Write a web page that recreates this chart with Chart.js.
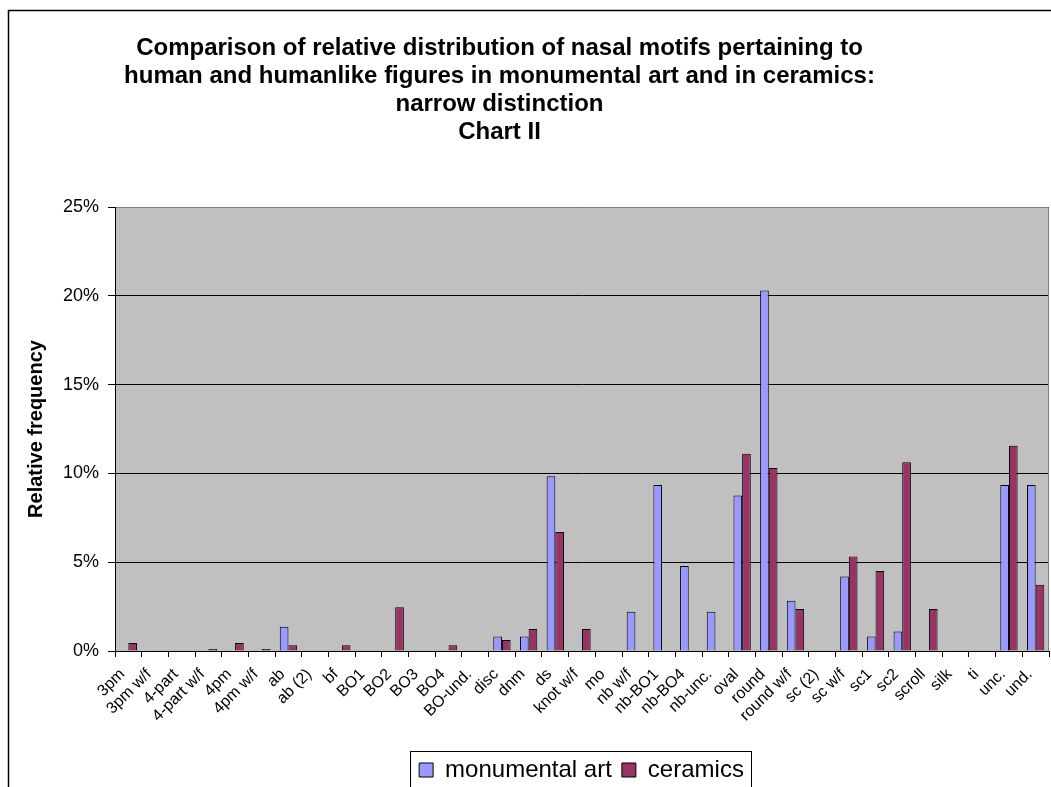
<!DOCTYPE html>
<html>
<head>
<meta charset="utf-8">
<script src="https://cdn.jsdelivr.net/npm/chart.js@4.4.1/dist/chart.umd.min.js"></script>
<style>
html,body{margin:0;padding:0;background:#fff;}
#wrap{width:1051px;height:787px;position:relative;overflow:hidden;}
</style>
</head>
<body>
<div id="wrap"><canvas id="c" width="1051" height="787"></canvas></div>
<script>
const categories = ['3pm','3pm w/f','4-part','4-part w/f','4pm','4pm w/f','ab','ab (2)','bf','BO1','BO2','BO3','BO4','BO-und.','disc','dnm','ds','knot w/f','mo','nb w/f','nb-BO1','nb-BO4','nb-unc.','oval','round','round w/f','sc (2)','sc w/f','sc1','sc2','scroll','silk','ti','unc.','und.'];
const monumentalArt = [0,0,0,0,0,0,1.37,0,0,0,0,0,0,0,0.82,0.82,9.84,0,0,2.21,9.34,4.78,2.21,8.75,20.3,2.83,0,4.2,0.82,1.1,0,0,0,9.34,9.34];
const ceramics = [0.45,0,0,0.11,0.45,0.11,0.32,0,0.32,0,2.47,0,0.32,0,0.62,1.24,6.7,1.24,0,0,0,0,0,11.1,10.3,2.36,0,5.32,4.51,10.63,2.36,0,0,11.56,3.73];
const yTickLabels = ['0%','5%','10%','15%','20%','25%'];
const titleLines = ['Comparison of relative distribution of nasal motifs pertaining to','human and humanlike figures in monumental art and in ceramics:','narrow distinction','Chart II'];

const FONT = "'Liberation Sans', Arial, sans-serif";
const TITLE_SHIFT = -25;
const LEGEND_SHIFT = 57;

const frame = {
  id: 'frame',
  afterLayout(chart) {
    chart.$shifted = false;
  },
  beforeDraw(chart) {
    if (!chart.$shifted) {
      chart.$shifted = true;
      const t = chart.titleBlock;
      if (t) { t.left += TITLE_SHIFT; t.right += TITLE_SHIFT; }
      const lg = chart.legend;
      if (lg) {
        lg.left += LEGEND_SHIFT; lg.right += LEGEND_SHIFT;
        (lg.legendHitBoxes || []).forEach(h => { h.left += LEGEND_SHIFT; });
      }
    }
    const ctx = chart.ctx, a = chart.chartArea;
    ctx.save();
    ctx.fillStyle = '#fff';
    ctx.fillRect(0, 0, chart.width, chart.height);
    ctx.strokeStyle = '#000';
    ctx.lineWidth = 1.5;
    ctx.strokeRect(8.5, 10.5, 1200, 1200);
    ctx.fillStyle = '#C0C0C0';
    ctx.fillRect(a.left, a.top, a.right - a.left, a.bottom - a.top);
    ctx.restore();
  },
  beforeDatasetsDraw(chart) {
    const ctx = chart.ctx, a = chart.chartArea;
    ctx.save();
    ctx.strokeStyle = '#808080';
    ctx.lineWidth = 1;
    ctx.beginPath();
    ctx.moveTo(a.left, a.top + 0.5);
    ctx.lineTo(a.right - 0.5, a.top + 0.5);
    ctx.lineTo(a.right - 0.5, a.bottom);
    ctx.stroke();
    ctx.strokeStyle = '#000';
    ctx.beginPath();
    ctx.moveTo(a.left + 0.5, a.top);
    ctx.lineTo(a.left + 0.5, a.bottom);
    ctx.stroke();
    ctx.restore();
  },
  afterDraw(chart) {
    const lg = chart.legend;
    if (!lg || !lg.legendHitBoxes || !lg.legendHitBoxes.length) return;
    const hb = lg.legendHitBoxes;
    let minX = Infinity, maxX = -Infinity;
    hb.forEach(h => { minX = Math.min(minX, h.left); maxX = Math.max(maxX, h.left + h.width); });
    const ctx = chart.ctx;
    ctx.save();
    ctx.strokeStyle = '#000';
    ctx.lineWidth = 1;
    ctx.strokeRect(Math.round(minX - 9) + 0.5, 751.5, Math.round(maxX - minX + 16), 60);
    ctx.restore();
  }
};

new Chart(document.getElementById('c'), {
  type: 'bar',
  data: {
    labels: categories,
    datasets: [
      { label: 'monumental art', data: monumentalArt, backgroundColor: '#9999FF', borderColor: '#000', borderWidth: 1, barPercentage: 1, categoryPercentage: 0.65 },
      { label: 'ceramics', data: ceramics, backgroundColor: '#993366', borderColor: '#000', borderWidth: 1, barPercentage: 1, categoryPercentage: 0.65 }
    ]
  },
  options: {
    responsive: false,
    animation: false,
    devicePixelRatio: 1,
    layout: { padding: { top: 0, right: 2, bottom: -5, left: 0 } },
    plugins: {
      title: {
        display: true,
        text: titleLines,
        color: '#000',
        font: { family: FONT, size: 24, weight: 'bold', lineHeight: 28 / 24 },
        padding: { top: 34, bottom: 61 }
      },
      legend: {
        display: true,
        position: 'bottom',
        labels: {
          color: '#000',
          font: { family: FONT, size: 24 },
          boxWidth: 14,
          boxHeight: 14,
          padding: 10
        }
      },
      tooltip: { enabled: false }
    },
    scales: {
      x: {
        offset: true,
        grid: { offset: true, drawOnChartArea: false, drawTicks: true, tickLength: 6, color: '#000' },
        border: { color: '#000', width: 1 },
        ticks: { color: '#000', font: { family: FONT, size: 16 }, maxRotation: 45, minRotation: 45, autoSkip: false, padding: 8, labelOffset: -6 },
        afterFit(s) { s.height = 97; s.paddingRight = 0; s.paddingLeft = 0; }
      },
      y: {
        min: 0,
        max: 25,
        ticks: {
          stepSize: 5,
          color: '#000',
          font: { family: FONT, size: 18 },
          padding: 9,
          callback: (v, i) => yTickLabels[i]
        },
        grid: { color: '#000', lineWidth: 1, tickLength: 7, drawTicks: true },
        border: { color: '#000', width: 1 },
        title: {
          display: true,
          text: 'Relative frequency',
          color: '#000',
          font: { family: FONT, size: 20, weight: 'bold' },
          padding: { top: 24, bottom: 0 }
        },
        afterFit(s) { s.width = 115; }
      }
    }
  },
  plugins: [frame]
});
</script>
</body>
</html>
